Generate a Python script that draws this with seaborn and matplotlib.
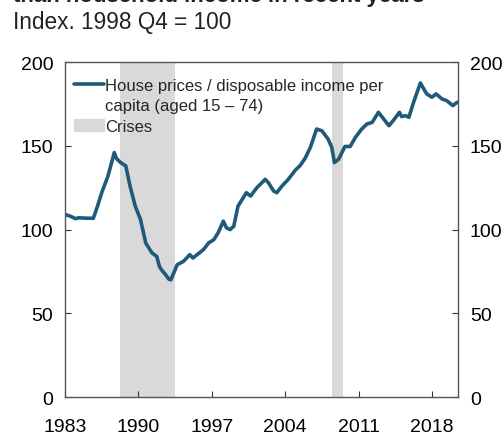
import numpy as np
import pandas as pd
import seaborn as sns
import matplotlib.pyplot as plt
from matplotlib.patches import Patch
from matplotlib.lines import Line2D

# ----------------------------------------------------------------
# Data
# ----------------------------------------------------------------
years = [1983.0, 1983.5, 1984.0, 1984.3, 1985.0, 1985.7, 1986.1, 1986.5, 1987.1,
         1987.7, 1987.9, 1988.3, 1988.8, 1989.2, 1989.7, 1990.2, 1990.7, 1991.3,
         1991.75, 1992.0, 1992.2, 1992.6, 1992.9, 1993.1, 1993.7, 1994.3, 1994.9,
         1995.2, 1995.6, 1996.2, 1996.7, 1997.2, 1997.6, 1998.1, 1998.4, 1998.75,
         1999.1, 1999.5, 1999.9, 2000.3, 2000.7, 2001.3, 2002.1, 2002.4, 2002.9,
         2003.2, 2003.7, 2004.3, 2005.0, 2005.4, 2005.9, 2006.4, 2007.0, 2007.5,
         2008.1, 2008.45, 2008.7, 2009.1, 2009.7, 2010.2, 2010.7, 2011.3, 2011.8,
         2012.3, 2012.9, 2013.4, 2013.9, 2014.3, 2014.9, 2015.1, 2015.5, 2015.8,
         2016.25, 2016.9, 2017.5, 2018.0, 2018.4, 2018.95, 2019.4, 2020.0, 2020.4]
ratio = [109, 108, 106.5, 107, 106.8, 106.7, 114, 122, 132,
         146, 142.5, 140, 138, 126, 114, 106, 92, 86,
         84, 78, 76, 73, 70.4, 70, 79, 81, 85,
         83, 85, 88, 92, 94, 98, 105, 101, 100,
         102, 114, 118, 122, 120, 125, 130, 128, 123,
         122, 126, 130, 135.7, 138, 142.5, 149, 160, 159,
         154, 149, 140, 142, 149.6, 149.6, 155, 160, 163,
         164, 170, 166, 162, 165, 170, 167.5, 168, 167,
         176, 187.5, 181, 179, 181, 178, 177, 174, 176]

crisis_start = [1988.25, 2008.5]
crisis_end = [1993.5, 2009.5]

xticks = [1983, 1990, 1997, 2004, 2011, 2018]
yticks = [0, 50, 100, 150, 200]

legend_lines = ["House prices / disposable income per", "capita (aged 15 \u2013 74)"]

df = pd.DataFrame({"year": years, "ratio": ratio})

# ----------------------------------------------------------------
# Plot
# ----------------------------------------------------------------
sns.set_style("white")
plt.rcParams["font.family"] = ["Liberation Sans", "DejaVu Sans"]

line_col = "#1f5a7a"
shade_col = "#d9d9d9"
fig = plt.figure(figsize=(5.04, 4.35), dpi=100)
ax = fig.add_axes([0.129, 0.085, 0.780, 0.770])

for s, e in zip(crisis_start, crisis_end):
    ax.axvspan(s, e, color=shade_col, lw=0, zorder=0)

sns.lineplot(data=df, x="year", y="ratio", ax=ax, color=line_col, lw=2.6,
             legend=False)

ax.set_xlim(1983, 2020.5)
ax.set_ylim(0, 200)
ax.set_xticks(xticks)
ax.set_yticks(yticks)
ax.set_xlabel("")
ax.set_ylabel("")
ax.tick_params(direction="in", length=4, labelsize=14, colors="#333333",
               labelcolor="black")
ax.tick_params(axis="y", left=True, right=True, labelleft=True,
               labelright=True, pad=8.5)
ax.tick_params(axis="x", bottom=True, pad=15)
for sp in ax.spines.values():
    sp.set_color("#555555")
    sp.set_linewidth(1.0)

# legend: line handle sits next to first label line only
handles = [Line2D([], [], color=line_col, lw=2.6),
           Patch(color="none"),
           Patch(color=shade_col)]
labels = legend_lines + ["Crises"]
ax.legend(handles, labels, loc="upper left", bbox_to_anchor=(-0.018, 1.0),
          frameon=False, fontsize=12, handlelength=1.8, handletextpad=0.1,
          borderaxespad=0.2, borderpad=0.75, labelspacing=0.32)

fig.text(0.025, 1 - 2 / 435, "than household income in recent years",
         fontsize=16, fontweight="bold", va="baseline", ha="left",
         color="#222222")
fig.text(0.025, 0.949, "Index. 1998 Q4 = 100", fontsize=16.3, va="center",
         ha="left", color="#222222")

fig.savefig("out.png", dpi=100)
